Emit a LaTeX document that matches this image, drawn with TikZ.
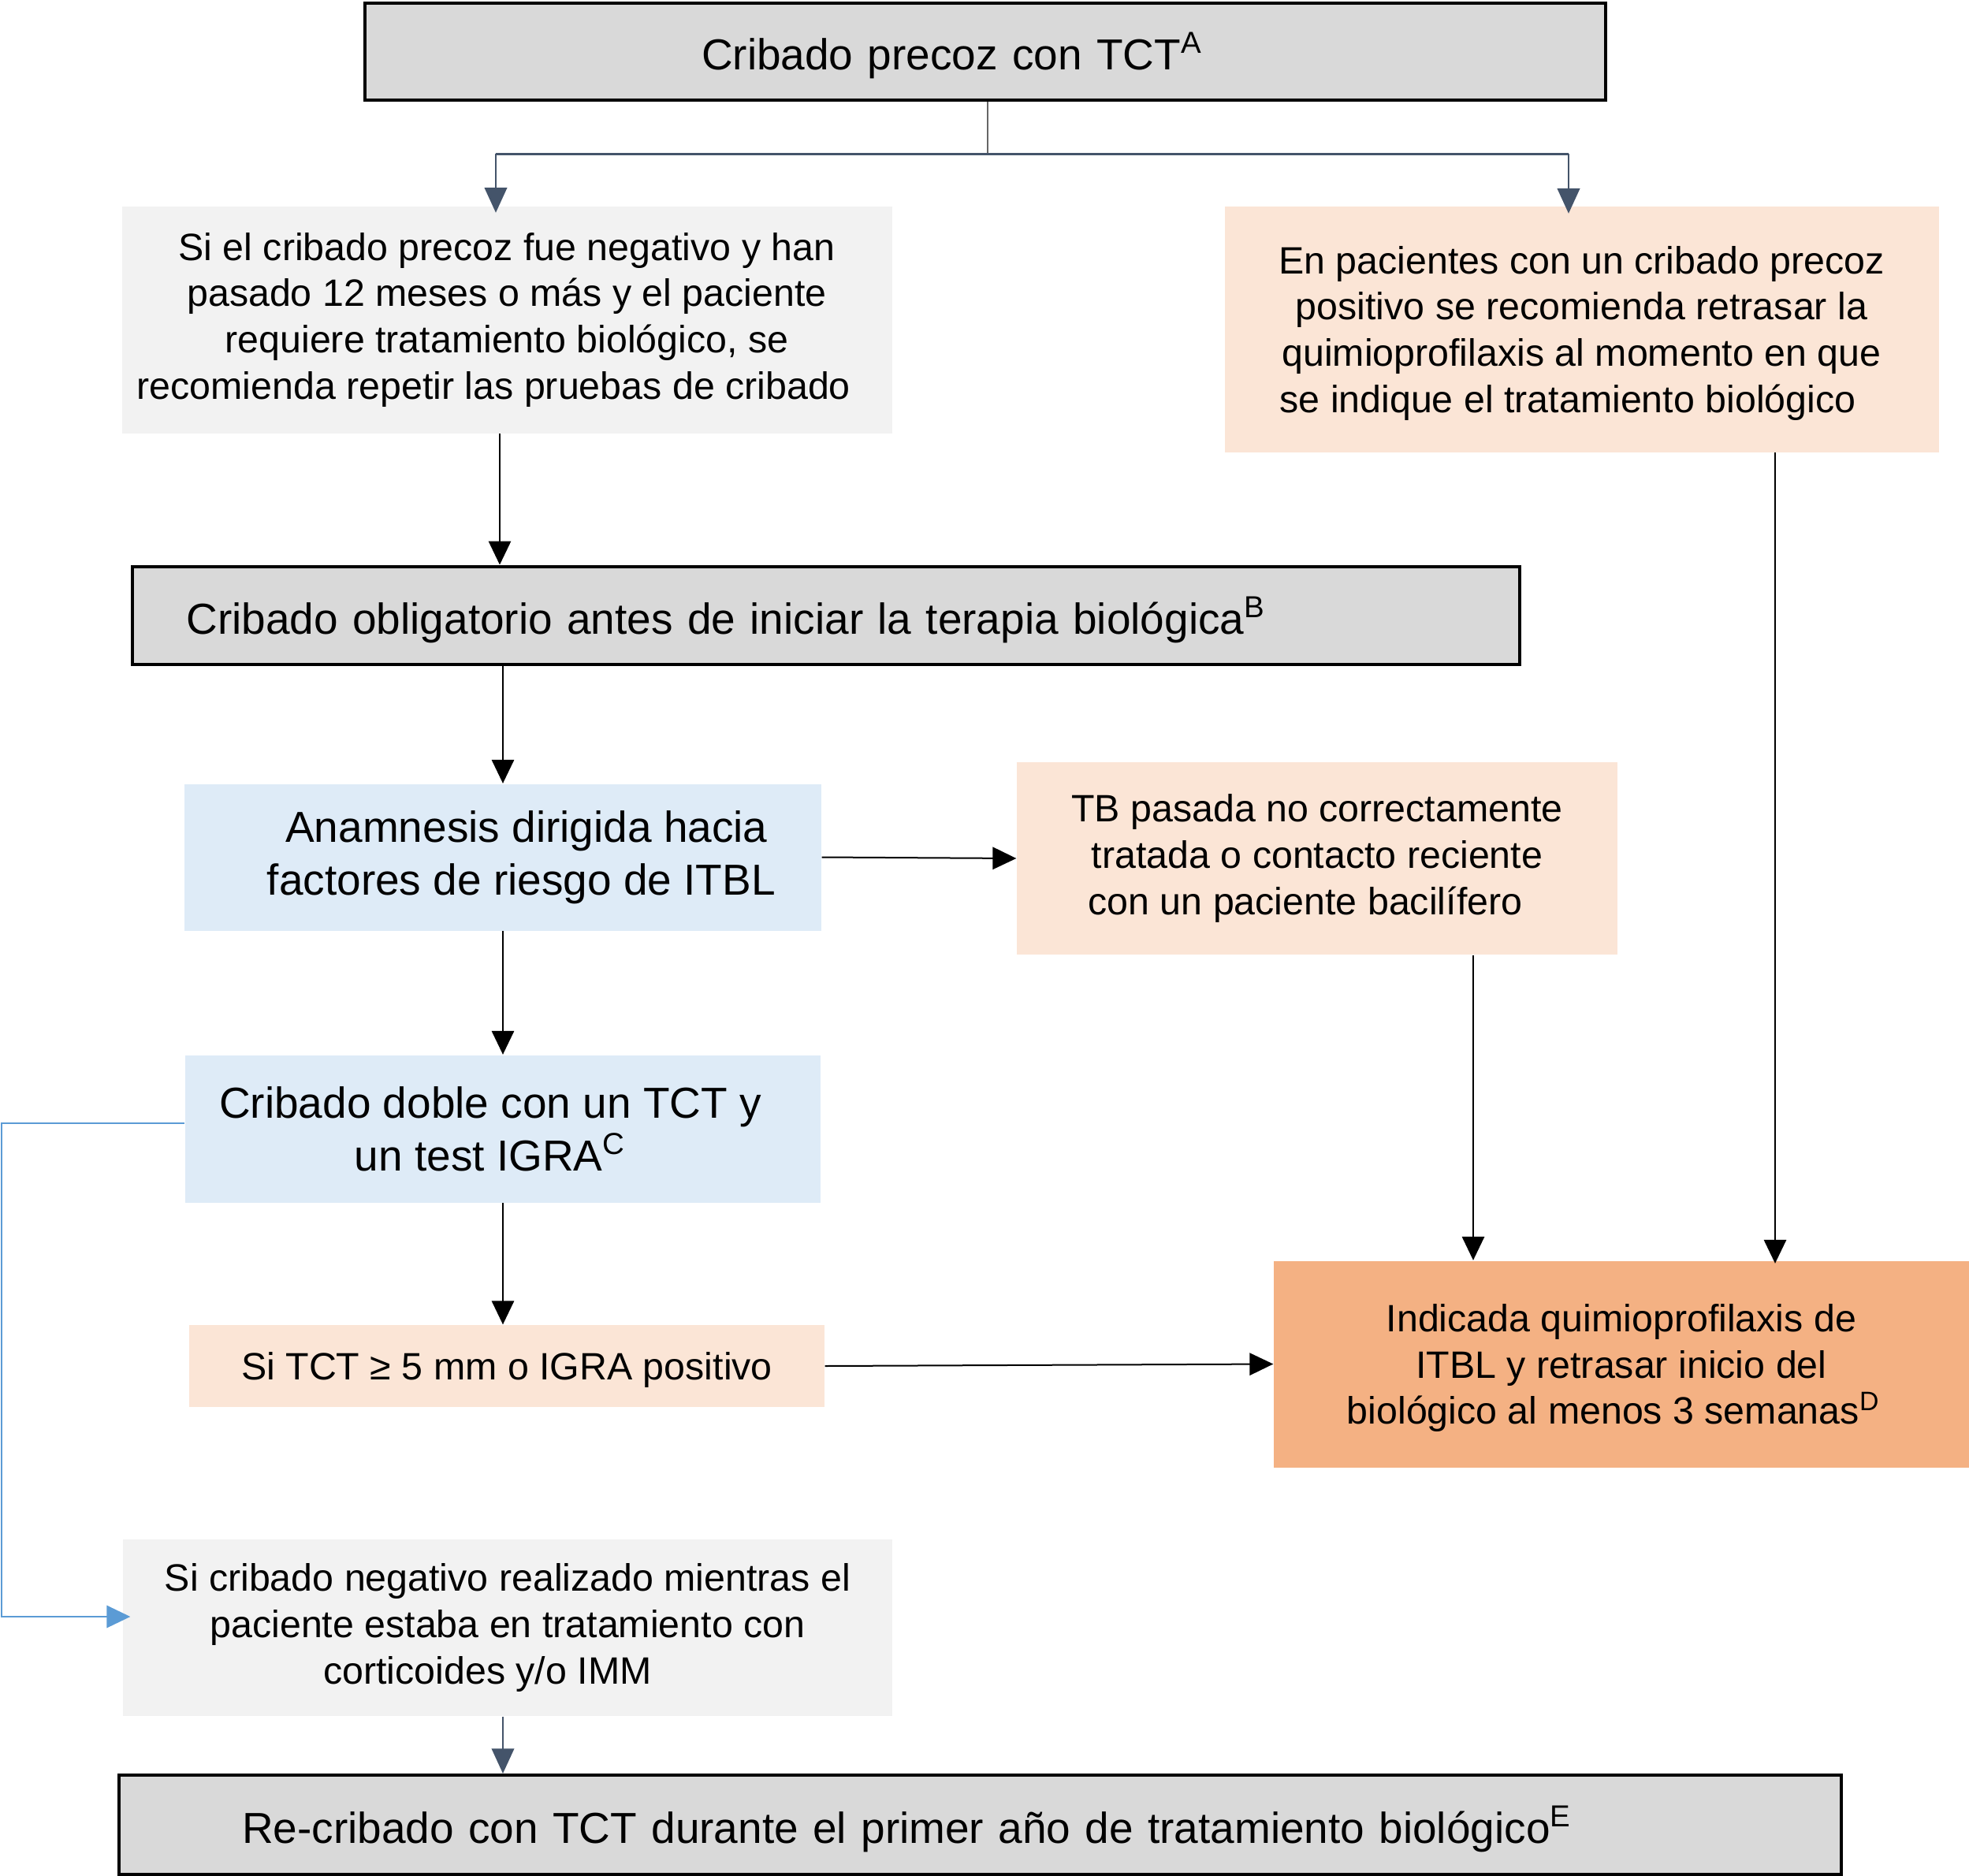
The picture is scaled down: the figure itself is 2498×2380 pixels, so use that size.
\documentclass[tikz,border=0pt]{standalone}
\usepackage{fontspec}
\setmainfont{Liberation Sans}
\usetikzlibrary{arrows.meta}
\definecolor{boxgray}{HTML}{D9D9D9}
\definecolor{lightgray}{HTML}{F2F2F2}
\definecolor{peach}{HTML}{FBE5D6}
\definecolor{lightblue}{HTML}{DEEBF7}
\definecolor{orangebox}{HTML}{F4B183}
\definecolor{slate}{HTML}{44546A}
\definecolor{blueline}{HTML}{5B9BD5}
\begin{document}
\begin{tikzpicture}[x=0.3pt,y=-0.3pt,
  base/.style={inner sep=0pt, align=center},
  bigf/.style={font=\fontsize{16.5}{20}\selectfont},
  smallf/.style={font=\fontsize{14.5}{17.6}\selectfont},
  graybox/.style={base, draw=black, line width=1.2pt, fill=boxgray, text depth=0pt},
  lgbox/.style={base, fill=lightgray},
  peachbox/.style={base, fill=peach},
  bluebox/.style={base, fill=lightblue},
  orbox/.style={base, fill=orangebox},
  arr/.style={draw=black, line width=0.6pt, -{Triangle[width=8.5pt,length=9pt]}},
  slatearr/.style={draw=slate, line width=0.8pt, -{Triangle[width=8.5pt,length=9.5pt]}},
  bluearr/.style={draw=blueline, line width=0.7pt, -{Triangle[width=8.5pt,length=9pt]}}
]
\useasboundingbox (0,0) rectangle (2498,2380);

% nodes
\node[graybox, bigf, align=left, minimum width=472.2pt, minimum height=36.9pt,
      text width=216pt, inner xsep=128.1pt] (top) at (1250,65)
  {Cribado precoz con TCT\textsuperscript{A}};
\node[lgbox, smallf, minimum width=293.1pt, minimum height=86.4pt] (b2) at (643,405.5)
  {Si el cribado precoz fue negativo y han\\pasado 12 meses o más y el paciente\\requiere tratamiento biológico, se\\recomienda repetir las pruebas de cribado\hspace*{10pt}};
\node[peachbox, smallf, minimum width=271.8pt, minimum height=93.6pt, text depth=0pt] (b3) at (2006.5,417.5)
  {En pacientes con un cribado precoz\\positivo se recomienda retrasar la\\quimioprofilaxis al momento en que\\se indique el tratamiento biológico\hspace*{10.5pt}};
\node[graybox, bigf, align=left, minimum width=528pt, minimum height=37.2pt,
      text width=486.6pt, inner xsep=20.7pt] (b4) at (1047.5,780.5)
  {Cribado obligatorio antes de iniciar la terapia biológica\textsuperscript{B}};
\node[bluebox, bigf, minimum width=242.4pt, minimum height=55.8pt] (b5) at (638,1087.5)
  {\hspace*{18pt}Anamnesis dirigida hacia\\\hspace*{14pt}factores de riesgo de ITBL};
\node[peachbox, smallf, minimum width=228.6pt, minimum height=73.2pt] (b6) at (1671,1089)
  {TB pasada no correctamente\\tratada o contacto reciente\\con un paciente bacilífero\hspace*{9pt}};
\node[bluebox, bigf, minimum width=241.8pt, minimum height=56.1pt] (b7) at (638,1432)
  {Cribado doble con un TCT y\hspace*{9.6pt}\\un test IGRA\textsuperscript{C}\hspace*{9.6pt}};
\node[peachbox, smallf, minimum width=241.8pt, minimum height=31.2pt, text depth=0pt] (b8) at (643,1733)
  {Si TCT ≥ 5 mm o IGRA positivo};
\node[orbox, smallf, minimum width=264.6pt, minimum height=78.6pt, text depth=0pt] (b9) at (2057,1730.5)
  {Indicada quimioprofilaxis de\\ITBL y retrasar inicio del\\biológico al menos 3 semanas\textsuperscript{D}\hspace*{6pt}};
\node[lgbox, smallf, minimum width=292.8pt, minimum height=67.2pt] (b10) at (644,2065)
  {Si cribado negativo realizado mientras el\\paciente estaba en tratamiento con\\corticoides y/o IMM\hspace*{15.3pt}};
\node[graybox, bigf, align=left, minimum width=655.5pt, minimum height=37.8pt,
      text width=561.9pt, inner xsep=46.8pt] (b11) at (1243.5,2315)
  {Re-cribado con TCT durante el primer año de tratamiento biológico\textsuperscript{E}};

% helper coordinates
\coordinate (split) at (1253,195);
\coordinate (sl) at (629,195);
\coordinate (sr) at (1990,195);
\coordinate (c69) at (1869,0);
\coordinate (c39) at (2252,0);
\coordinate (cb) at (2,0);

% top split
\draw[draw=gray!80!black, line width=0.4pt] (top.south -| split) -- (split);
\draw[draw=slate, line width=0.9pt] (sl) -- (sr);
\draw[slatearr, shorten >=-2.7pt] (sl) -- (sl |- b2.north);
\draw[slatearr, shorten >=-3pt] (sr) -- (sr |- b3.north);

% black connectors
\draw[arr] ([xshift=-2.7pt]b2.south) -- ([xshift=-2.7pt]b2.south |- b4.north);
\draw[arr] (b4.south -| b5.north) -- (b5.north);
\draw[arr] (b5.east) -- (b6.west);
\draw[arr] (b5.south) -- (b7.north);
\draw[arr] (b7.south) -- (b7.south |- b8.north);
\draw[arr] (b8.east) -- (b9.west);
\draw[arr] (b6.south -| c69) -- (b9.north -| c69);
\draw[arr, shorten >=-1.2pt] (b3.south -| c39) -- (b9.north -| c39);

% blue loop
\draw[bluearr, shorten >=-3pt] ([yshift=2.1pt]b7.west) -| ([yshift=4.2pt]cb |- b10.west) -- ([yshift=4.2pt]b10.west);

% bottom
\draw[slatearr] ([xshift=-1.8pt]b10.south) -- ([xshift=-1.8pt]b10.south |- b11.north);
\end{tikzpicture}
\end{document}
